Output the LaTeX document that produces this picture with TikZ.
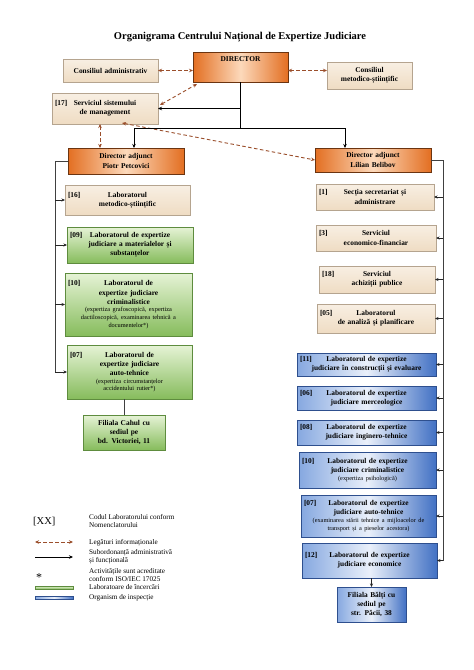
\documentclass[tikz,border=0pt]{standalone}
\usepackage{fontspec}
\setmainfont{Liberation Serif}
\usetikzlibrary{arrows.meta,shadows,calc}
\definecolor{beigeT}{HTML}{F8EFE3}
\definecolor{beigeB}{HTML}{EFDCC3}
\definecolor{beigeD}{HTML}{B5A48F}
\definecolor{orE}{HTML}{E36F22}
\definecolor{orM}{HTML}{FCD9BB}
\definecolor{orD}{HTML}{6B3410}
\definecolor{grT}{HTML}{E6F3D6}
\definecolor{grB}{HTML}{86BC5C}
\definecolor{grD}{HTML}{5E8C3E}
\definecolor{blL}{HTML}{86A8E0}
\definecolor{blM}{HTML}{EAF0FA}
\definecolor{blR}{HTML}{4271C4}
\definecolor{blD}{HTML}{2E4F8E}
\definecolor{brn}{HTML}{9B4F2C}
\newcommand\bxfont{\fontsize{7.4}{9.2}\selectfont\bfseries}
\newcommand\smtxt{\fontsize{6.3}{7.6}\selectfont\mdseries}
\newcommand\cd[2]{\makebox[\linewidth]{\rlap{#1}\hfill #2\hfill}}
\newcommand\orgbox[7]{\pgfmathsetlengthmacro\bxtw{#5-6}%
  \node[#2, anchor=north west, minimum width=#5pt, minimum height=#6pt, text width=\bxtw] (#1) at (#3,#4) {#7};}
\begin{document}
\begin{tikzpicture}[x=1pt,y=-1pt,
  box/.style={inner sep=0pt, outer sep=0pt, align=center, font=\bxfont, line width=0.6pt},
  shd/.style={drop shadow={shadow xshift=1.2pt,shadow yshift=-1.2pt,opacity=0.3}},
  beige/.style={box, shd, draw=beigeD, top color=beigeT, bottom color=beigeB},
  orng/.style={box, shd, draw=orD, line width=0.8pt, left color=orE, right color=orE, middle color=orM},
  grn/.style={box, shd, draw=grD, top color=grT, bottom color=grB},
  blu/.style={box, shd, draw=blD, left color=blL, right color=blR, middle color=blM},
  info/.style={brn, line width=0.9pt, dash pattern=on 3.5pt off 2.5pt, {Stealth[length=4pt,width=3.5pt]}-{Stealth[length=4pt,width=3.5pt]}},
  sub/.style={black, line width=0.7pt, -{Stealth[length=4pt,width=3.5pt]}},
  bus/.style={black!75, line width=0.6pt},
  subt/.style={black!85, line width=0.6pt, -{Stealth[length=3.5pt,width=3pt]}},
  lgt/.style={font=\fontsize{7.2}{7.8}\selectfont, align=left, inner sep=0pt, anchor=north west}
]
\fill[white] (0,0) rectangle (474,670);
\useasboundingbox (0,0) rectangle (474,670);

\node[font=\fontsize{10.5}{12}\selectfont\bfseries] (title) at (240,37) {Organigrama Centrului Național de Expertize Judiciare};

% top
\orgbox{director}{orng}{193}{52}{95}{30}{DIRECTOR\\[6pt]~}
\orgbox{consadm}{beige}{63}{59}{95}{23}{Consiliul administrativ}
\orgbox{consmet}{beige}{327}{62}{85}{27}{Consiliul\\metodico-științific}
\orgbox{s17}{beige}{52}{93}{106}{31}{\cd{[17]}{Serviciul sistemului}\\de management}
\orgbox{piotr}{orng}{68}{148}{116}{26}{Director adjunct\\Piotr Petcovici}
\orgbox{lilian}{orng}{315}{148}{116}{24}{Director adjunct\\Lilian Belibov}

% left column
\orgbox{l16}{beige}{65}{185}{125}{30}{\cd{[16]}{Laboratorul}\\metodico-științific}
\orgbox{l09}{grn}{67}{227}{126}{36}{\cd{[09]}{Laboratorul de expertize}\\judiciare a materialelor și\\substanțelor}
\orgbox{l10}{grn}{65}{273}{127}{63}{\cd{[10]}{Laboratorul de}\\expertize judiciare\\criminalistice\par{\smtxt (expertiza grafoscopică, expertiza\\dactiloscopică, examinarea tehnică a\\documentelor*)\par}}
\orgbox{l07}{grn}{67}{345}{125}{54}{\cd{[07]}{Laboratorul de}\\expertize judiciare\\auto-tehnice\par{\smtxt (expertiza circumstanțelor\\accidentului rutier*)\par}}
\orgbox{cahul}{grn}{83}{415}{82}{35}{Filiala Cahul cu\\sediul pe\\bd. Victoriei, 11}

% right column
\orgbox{r1}{beige}{316}{184}{118}{26}{\cd{[1]}{Secția secretariat și}\\administrare}
\orgbox{r3}{beige}{316}{225}{120}{26}{\cd{[3]}{Serviciul}\\economico-financiar}
\orgbox{r18}{beige}{319}{266}{116}{27}{\cd{[18]}{Serviciul}\\achiziții publice}
\orgbox{r05}{beige}{317}{304}{118}{29}{\cd{[05]}{Laboratorul}\\de analiză și planificare}
\orgbox{b11}{blu}{297}{353}{139}{23}{\cd{[11]}{Laboratorul de expertize}\\judiciare în construcții și evaluare}
\orgbox{b06}{blu}{297}{386}{139}{24}{\cd{[06]}{Laboratorul de expertize}\\judiciare merceologice}
\orgbox{b08}{blu}{297}{420}{139}{25}{\cd{[08]}{Laboratorul de expertize}\\judiciare inginero-tehnice}
\orgbox{b10}{blu}{299}{452}{137}{36}{\cd{[10]}{Laboratorul de expertize}\\judiciare criminalistice\par{\smtxt (expertiza psihologică)\par}}
\orgbox{b07}{blu}{301}{495}{135}{42}{\cd{[07]}{Laboratorul de expertize}\\judiciare auto-tehnice\par{\smtxt (examinarea stării tehnice a mijloacelor de\\transport și a pieselor acestora)\par}}
\orgbox{b12}{blu}{302}{543}{135}{35}{\cd{[12]}{Laboratorul de expertize}\\judiciare economice}
\orgbox{balti}{blu}{337}{587}{69}{35}{Filiala Bălți cu\\sediul pe\\str. Păcii, 38}

% information links
\draw[info] (consadm.east) -- (consadm.east -| director.west);
\draw[info] (director.east |- consadm.east) -- (consmet.west |- consadm.east);
\draw[info] ($(s17.north east)+(2,12)$) -- ($(director.south west)+(4,2)$);
\draw[info] ($(s17.south west)+(48,0)$) -- ($(piotr.north west)+(32,0)$);
\draw[info] ($(s17.south west)+(70,-1)$) -- (lilian.west);

% subordination
\draw[sub] (director.south) |- (s17.east);
\coordinate (jn) at ($(director.south)+(0,46)$);
\draw[black, line width=0.7pt] (director.south) -- (jn);
\draw[sub] (jn) -| ($(piotr.north west)+(66,0)$);
\draw[sub] (jn) -| ($(lilian.north west)+(30,0)$);

\coordinate (lb) at ($(piotr.west)+(-13,0)$);
\draw[bus] (piotr.west) -- (lb) -- (lb |- l07.west);
\foreach \n in {l16,l09,l10,l07} \draw[subt] (lb |- \n.west) -- (\n.west);
\draw[bus] (cahul.north) -- (cahul.north |- l07.south);

\coordinate (rb) at ($(lilian.east)+(12,0)$);
\draw[bus] (lilian.east) -- (rb) -- (rb |- b12.east);
\foreach \n in {r1,r3,r18,r05,b11,b06,b08,b10,b07,b12} \draw[subt] (rb |- \n.east) -- (\n.east);
\draw[subt] (balti.north |- b12.south) -- (balti.north);

% legend
\node[font=\fontsize{10.5}{12}\selectfont, anchor=base west, inner sep=0pt] (lgxx) at (33,524) {[XX]};
\node[lgt] (lg1) at (89,514) {Codul Laboratorului conform\\Nomenclatorului};
\coordinate (li1a) at (35,542); \coordinate (li1b) at (73,542);
\draw[info] (li1a) -- (li1b);
\node[lgt] (lg2) at (89,539) {Legături informaționale};
\coordinate (li2a) at (35,557); \coordinate (li2b) at (73,557);
\draw[sub] (li2a) -- (li2b);
\node[lgt] (lg3) at (89,549) {Subordonanță administrativă\\și funcțională};
\node[font=\fontsize{12}{12}\selectfont, inner sep=0pt] (lgstar) at (39,578) {*};
\node[lgt] (lg4) at (89,568) {Activitățile sunt acreditate\\conform ISO/IEC 17025};
\node[draw=grD, top color=grT, bottom color=grB, minimum width=38pt, minimum height=3pt, inner sep=0pt] (lgg) at (54,587.5) {};
\node[lgt] (lg5) at (89,584.5) {Laboratoare de încercări};
\node[draw=blD, left color=blL, right color=blR, middle color=blM, minimum width=38pt, minimum height=3pt, inner sep=0pt] (lgb) at (54,597.5) {};
\node[lgt] (lg6) at (89,594.5) {Organism de inspecție};
\end{tikzpicture}
\end{document}
